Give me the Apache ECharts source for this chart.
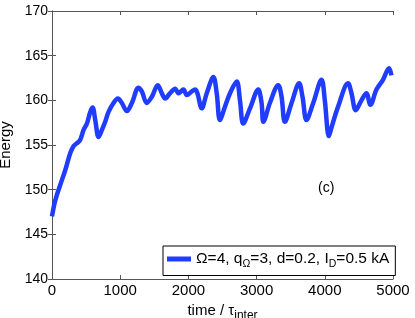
<!DOCTYPE html>
<html><head><meta charset="utf-8">
<script src="https://cdn.jsdelivr.net/npm/echarts@6/dist/echarts.min.js"></script>
<style>html,body{margin:0;padding:0;background:#fff}#c{width:415px;height:318px}</style>
</head><body><div id="c"></div>
<script>
const times = [0,48,146,195,268,317,366,414,463,512,561,595,634,683,732,780,829,902,966,1024,1098,1171,1268,1317,1390,1464,1551,1610,1658,1732,1805,1854,1927,1976,2050,2098,2132,2196,2269,2366,2415,2463,2537,2610,2708,2756,2805,2903,3024,3073,3100,3195,3317,3366,3415,3513,3624,3673,3732,3830,3952,4000,4060,4100,4195,4341,4391,4454,4537,4610,4669,4757,4853,4942,4977];
const energy = [147.0,148.8,151.1,152.2,154.1,154.9,155.2,155.6,156.7,157.4,158.7,159.2,157.8,155.9,156.7,157.6,158.7,159.7,160.2,159.7,158.8,159.7,161.4,161.0,159.7,160.4,161.7,160.8,160.2,160.8,161.3,160.8,161.2,160.6,161.0,161.2,160.8,159.1,160.8,162.6,160.8,157.8,159.3,160.8,162.1,160.0,157.4,159.1,161.2,159.7,157.6,159.7,161.7,160.4,157.6,159.7,161.9,160.4,157.8,159.7,162.3,160.0,156.0,157.0,159.3,161.9,160.8,158.9,160.0,160.8,159.5,161.2,162.3,163.6,162.8];
const xTicks = [0,1000,2000,3000,4000,5000];
const yTicks = [140,145,150,155,160,165,170];
const seriesName = 'Ω=4, q{sub|Ω}=3, d=0.2, I{sub|D}=0.5 kA';
const panelLabel = '(c)';

const font = 'Liberation Sans, Arial, sans-serif';
const chart = echarts.init(document.getElementById('c'));
const axisLine = {show:true, lineStyle:{color:'#555', width:1}};
const tick = {show:true, inside:true, length:4, lineStyle:{color:'#555'}};
chart.setOption({
  animation:false,
  grid:{left:52, right:22, top:11, bottom:39, show:false, containLabel:false, outerBoundsMode:'none'},
  xAxis:[{
    type:'value', min:xTicks[0], max:xTicks[xTicks.length-1], interval:1000,
    axisLine:axisLine, axisTick:tick, splitLine:{show:false},
    axisLabel:{color:'#000', fontSize:15, fontFamily:font, margin:4, formatter:v=>String(v)},
    name:'time / τ{sub|inter}', nameLocation:'middle', nameGap:11,
    nameTextStyle:{color:'#000', fontSize:15, fontFamily:font,
      rich:{sub:{fontSize:12, fontFamily:font, color:'#000', padding:[11,0,0,0]}}}
  },{
    type:'value', position:'top', min:0, max:5000, interval:1000,
    axisLine:axisLine, axisTick:tick, axisLabel:{show:false}, splitLine:{show:false}
  }],
  yAxis:[{
    type:'value', min:yTicks[0], max:yTicks[yTicks.length-1], interval:5,
    axisLine:axisLine, axisTick:tick, splitLine:{show:false},
    axisLabel:{color:'#000', fontSize:14, fontFamily:font, margin:4, formatter:v=>String(v)},
    name:'Energy', nameLocation:'middle', nameGap:27, nameRotate:90,
    nameTextStyle:{color:'#000', fontSize:15, fontFamily:font}
  },{
    type:'value', position:'right', min:140, max:170, interval:5,
    axisLine:axisLine, axisTick:tick, axisLabel:{show:false}, splitLine:{show:false}
  }],
  legend:{
    left:163, top:246, orient:'vertical',
    borderColor:'#000', borderWidth:1, padding:[5,6,6,4],
    itemWidth:24, itemHeight:5, itemGap:0,
    data:[{name:seriesName, icon:'rect'}],
    textStyle:{color:'#000', fontSize:15.5, fontFamily:font,
      rich:{sub:{fontSize:10.5, fontFamily:font, color:'#000', padding:[10,0,0,0]}}}
  },
  graphic:[{type:'text', left:318, top:181, style:{text:panelLabel, fontSize:14, fontFamily:font, fill:'#000'}}],
  series:[{
    name:seriesName, type:'line', smooth:0.35, symbol:'none',
    data: times.map((t,i)=>[t, energy[i]]),
    lineStyle:{color:'#1f3cff', width:4.5},
    itemStyle:{color:'#1f3cff'}
  }]
});
</script></body></html>
